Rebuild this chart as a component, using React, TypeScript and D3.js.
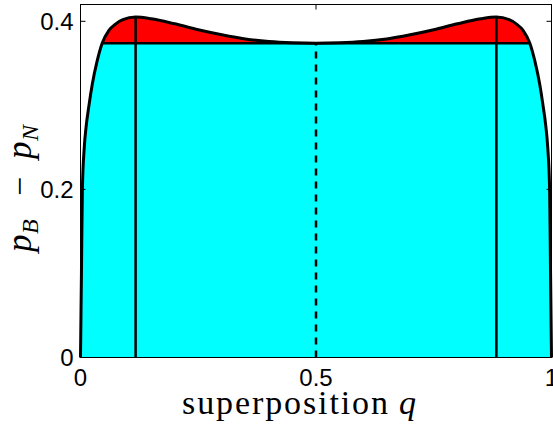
import React from "react";
import * as d3 from "d3";

// Superposition parameter q and the resulting probability difference p_B - p_N
const qValues = [
  0, 0.002, 0.004, 0.008, 0.012, 0.018, 0.025, 0.035, 0.046, 0.06, 0.075, 0.09,
  0.117, 0.15, 0.2, 0.25, 0.3, 0.35, 0.4, 0.45, 0.5, 0.55, 0.6, 0.65, 0.7, 0.75,
  0.8, 0.85, 0.883, 0.91, 0.925, 0.94, 0.954, 0.965, 0.975, 0.982, 0.988, 0.992,
  0.996, 0.998, 1,
];
const pValues = [
  0, 0.1, 0.2, 0.25, 0.275, 0.3, 0.325, 0.352, 0.374, 0.389, 0.397, 0.402,
  0.405, 0.403, 0.397, 0.39, 0.384, 0.379, 0.376, 0.3745, 0.374, 0.3745, 0.376,
  0.379, 0.384, 0.39, 0.397, 0.403, 0.405, 0.402, 0.397, 0.389, 0.374, 0.352,
  0.325, 0.3, 0.275, 0.25, 0.2, 0.1, 0,
];
// Value at the pure-superposition midpoint (q = 0.5)
const plateau = 0.374;
const midQ = 0.5;
// Positions of the two maxima
const peakQs = [0.117, 0.883];

const xTicks = [0, 0.5, 1];
const yTicks = [0, 0.2, 0.4];
const xTickLabels = ["0", "0.5", "1"];
const yTickLabels = ["0", "0.2", "0.4"];

export default function App() {
  const W = 553;
  const H = 434;
  const x = d3.scaleLinear().domain([0, 1]).range([80.5, 551.5]);
  const y = d3.scaleLinear().domain([0, 0.42]).range([357.5, 4.5]);

  const pts: [number, number][] = qValues.map((q, i) => [q, pValues[i]]);
  const area = d3
    .area<[number, number]>()
    .x((d) => x(d[0]))
    .y0(y(0))
    .y1((d) => y(d[1]))
    .curve(d3.curveMonotoneX);
  const line = d3
    .line<[number, number]>()
    .x((d) => x(d[0]))
    .y((d) => y(d[1]))
    .curve(d3.curveMonotoneX);

  const areaPath = area(pts) || "";
  const linePath = line(pts) || "";
  const [x0, x1] = x.range();
  const [yb, yt] = y.range();
  const yPlat = y(plateau);
  const peakVal = (q: number) => pValues[qValues.indexOf(q)];

  const sans = "'Liberation Sans', Arial, Helvetica, sans-serif";
  const serif = "'Liberation Serif', 'Times New Roman', serif";

  return (
    <svg
      width={W}
      height={H}
      viewBox={`0 0 ${W} ${H}`}
      style={{ position: "absolute", left: 0, top: 0, background: "#fff" }}
    >
      <defs>
        <clipPath id="below">
          <rect x={x0 - 5} y={yPlat} width={x1 - x0 + 10} height={yb - yPlat + 5} />
        </clipPath>
        <clipPath id="above">
          <rect x={x0 - 5} y={0} width={x1 - x0 + 10} height={yPlat} />
        </clipPath>
        <clipPath id="under">
          <path d={areaPath} />
        </clipPath>
      </defs>

      {/* filled regions */}
      <path d={areaPath} fill="#00ffff" clipPath="url(#below)" />
      <path d={areaPath} fill="#ff0000" clipPath="url(#above)" />

      {/* plateau line, limited to the region under the curve */}
      <g clipPath="url(#under)">
        <line x1={x0} x2={x1} y1={yPlat} y2={yPlat} stroke="#000" strokeWidth={2.5} />
      </g>

      {/* maxima markers */}
      {peakQs.map((q) => (
        <line
          key={q}
          x1={x(q)}
          x2={x(q)}
          y1={y(0)}
          y2={y(peakVal(q))}
          stroke="#000"
          strokeWidth={2.5}
        />
      ))}
      {/* midpoint marker */}
      <line
        x1={x(midQ)}
        x2={x(midQ)}
        y1={y(0)}
        y2={yPlat}
        stroke="#000"
        strokeWidth={2.5}
        strokeDasharray="7 6"
      />

      {/* curve */}
      <path d={linePath} fill="none" stroke="#000" strokeWidth={3} strokeLinejoin="round" />

      {/* axes box */}
      <rect x={x0} y={yt} width={x1 - x0} height={yb - yt} fill="none" stroke="#000" strokeWidth={1} />
      {yTicks.map((t) => (
        <g key={"y" + t}>
          <line x1={x0} x2={x0 + 5} y1={y(t)} y2={y(t)} stroke="#000" strokeWidth={1} />
          <line x1={x1} x2={x1 - 5} y1={y(t)} y2={y(t)} stroke="#000" strokeWidth={1} />
        </g>
      ))}
      {xTicks.map((t) => (
        <g key={"x" + t}>
          <line x1={x(t)} x2={x(t)} y1={yb} y2={yb - 5} stroke="#000" strokeWidth={1} />
          <line x1={x(t)} x2={x(t)} y1={yt} y2={yt + 5} stroke="#000" strokeWidth={1} />
        </g>
      ))}

      {/* tick labels */}
      {yTicks.map((t, i) => (
        <text
          key={"yl" + t}
          x={x0 - 7}
          y={y(t)}
          dy="0.36em"
          textAnchor="end"
          fontFamily={sans}
          fontSize={24}
          fill="#000"
        >
          {yTickLabels[i]}
        </text>
      ))}
      {xTicks.map((t, i) => (
        <text
          key={"xl" + t}
          x={x(t)}
          y={386}
          textAnchor="middle"
          fontFamily={sans}
          fontSize={24}
          fill="#000"
        >
          {xTickLabels[i]}
        </text>
      ))}

      {/* axis titles */}
      <text x={182} y={414} fontFamily={serif} fontSize={34} fill="#000">
        <tspan textLength={206} lengthAdjust="spacing">superposition</tspan>
        <tspan x={399} fontStyle="italic">q</tspan>
      </text>
      <g transform="translate(31, 0) rotate(-90)" fontFamily={serif} fill="#000">
        <text x={-252} y={0} fontSize={35} fontStyle="italic">p</text>
        <text x={-234} y={7} fontSize={24} fontStyle="italic">B</text>
        <text x={-196} y={0} fontSize={34}>−</text>
        <text x={-159} y={0} fontSize={35} fontStyle="italic">p</text>
        <text x={-141} y={7} fontSize={24} fontStyle="italic">N</text>
      </g>
    </svg>
  );
}
